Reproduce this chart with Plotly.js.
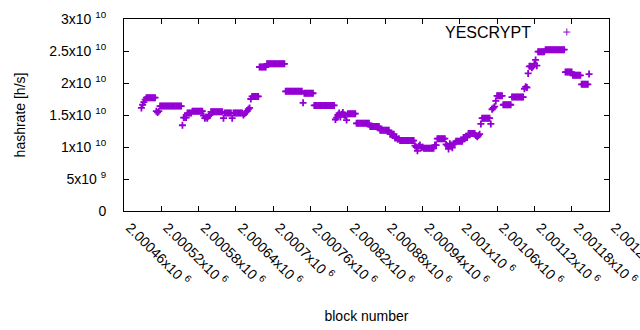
<!DOCTYPE html>
<html>
<head>
<meta charset="utf-8">
<script src="https://cdn.plot.ly/plotly-3.0.1.min.js"></script>
<style>html,body{margin:0;padding:0;background:#fff;}#chart{width:640px;height:330px;}</style>
</head>
<body>
<div id="chart"></div>
<script>
// first block of the series and spacing between sampled blocks
const blockStart = 2000488;
const blockStep = 2;
// hashrate values in units of 1e9 h/s
const hashrate = [
16.1,16.6,17.0,17.4,
17.7,17.7,17.7,17.7,17.7,17.7,17.7,17.7,
15.6,15.4,15.6,
16.4,16.4,16.4,16.4,16.4,16.4,16.4,16.4,16.4,16.4,16.4,16.4,16.4,16.4,16.4,16.4,16.4,16.4,
13.4,
14.6,14.6,14.6,
15.3,15.3,15.3,15.3,
15.6,15.6,15.6,15.6,15.6,15.6,15.6,15.6,15.6,
14.9,14.5,14.7,14.5,14.8,15.0,
15.5,15.5,15.5,15.5,15.5,15.5,15.5,15.5,15.5,15.5,
14.5,
15.3,15.3,15.3,15.3,15.3,15.3,14.5,15.3,15.3,15.3,15.3,15.3,15.3,15.3,15.3,
15.0,15.2,15.4,15.6,15.9,16.1,
17.5,17.9,17.9,17.9,17.9,17.9,17.9,
22.5,22.5,22.5,22.5,22.5,22.5,
23.0,23.0,23.0,23.0,23.0,23.0,23.0,23.0,23.0,23.0,23.0,23.0,23.0,23.0,23.0,
18.7,18.7,18.7,18.7,18.7,18.7,18.7,18.7,18.7,18.7,18.7,18.7,18.7,18.7,
16.9,
18.4,18.4,18.4,18.4,18.4,18.4,18.4,18.4,
16.5,16.5,16.5,16.5,16.5,16.5,16.5,16.5,16.5,16.5,16.5,16.5,16.5,16.5,16.5,16.5,16.5,
14.3,14.6,15.0,15.3,14.7,15.1,15.4,15.0,14.9,
14.2,
15.2,15.2,15.2,15.2,15.2,15.2,15.2,
13.7,13.7,13.7,13.7,13.7,13.7,13.7,13.7,13.7,13.7,13.7,
13.2,13.2,13.2,13.2,13.2,13.2,13.2,13.2,
12.6,12.6,12.6,12.6,12.6,12.6,12.6,12.6,
12.0,12.0,12.0,12.0,
11.4,11.5,11.2,11.3,
11.0,11.0,11.0,11.0,11.0,11.0,11.0,11.0,11.0,11.0,11.0,11.0,
10.2,10.0,9.4,10.1,10.3,9.9,10.0,
9.8,9.8,9.8,9.8,9.8,9.8,9.8,9.8,9.8,
10.3,10.3,
11.3,11.3,11.3,11.3,11.3,11.3,11.3,
10.4,10.2,9.7,10.5,10.3,9.9,10.4,10.6,
10.9,10.9,10.9,10.9,10.9,10.9,
11.5,11.5,11.5,11.5,
12.1,12.1,12.1,12.1,12.1,12.1,
11.8,11.6,11.8,12.0,
13.6,
14.5,14.5,14.5,14.5,14.5,14.5,14.5,
13.6,
15.9,16.1,16.3,17.2,
18.0,18.0,18.0,18.0,18.0,
16.6,16.6,16.6,16.6,16.6,16.6,16.6,
17.8,17.8,17.8,17.8,17.8,17.8,17.8,17.8,17.8,17.8,
19.1,19.4,19.3,
21.5,22.6,22.6,22.4,22.6,23.0,23.6,22.7,
24.9,24.9,24.9,24.9,24.9,24.9,
25.2,25.2,25.2,25.2,25.2,25.2,25.2,25.2,25.2,25.2,25.2,25.2,25.2,25.2,25.2,25.2,
21.7,21.7,21.7,21.7,21.7,21.7,
21.2,21.2,21.2,21.2,21.2,21.2,21.2,
19.8,19.8,19.8,19.8,19.8,19.8,
21.4
];
const xTickVals = [2000460,2000520,2000580,2000640,2000700,2000760,2000820,2000880,2000940,2001000,2001060,2001120,2001180,2001240];
const xTickText = ["2.00046","2.00052","2.00058","2.00064","2.0007","2.00076","2.00082","2.00088","2.00094","2.001","2.00106","2.00112","2.00118","2.00124"];
const yTickVals = [0,5,10,15,20,25,30];
const yTickText = ["0","5x10 <sup>9</sup>","1x10 <sup>10</sup>","1.5x10 <sup>10</sup>","2x10 <sup>10</sup>","2.5x10 <sup>10</sup>","3x10 <sup>10</sup>"];
const seriesName = "YESCRYPT";
const purple = "#9400d3";
const font = "Liberation Sans, Arial, sans-serif";

const trace = {
  type: "scatter", mode: "markers", name: seriesName,
  x0: blockStart, dx: blockStep, y: hashrate,
  marker: {symbol: "cross-thin", size: 5, color: purple, line: {color: purple, width: 1.8}},
  showlegend: false, hoverinfo: "skip"
};

const axisCommon = {
  showline: true, linecolor: "#000", linewidth: 1, mirror: "ticks",
  ticks: "inside", ticklen: 5, tickwidth: 1, tickcolor: "#000",
  showgrid: false, zeroline: false,
  tickfont: {family: font, size: 14, color: "#000"}
};

const layout = {
  width: 640, height: 330,
  margin: {l: 124, r: 31, t: 19, b: 119, pad: 0},
  paper_bgcolor: "#fff", plot_bgcolor: "#fff",
  font: {family: font, size: 14, color: "#000"},
  xaxis: Object.assign({}, axisCommon, {
    range: [2000460, 2001240.05], tickmode: "array",
    tickvals: xTickVals, ticktext: xTickText.map(t => t + "x10 <sup>6</sup>"),
    tickangle: 45, automargin: false, ticklabelstandoff: 2, ticklabelshift: 6,
    ticklabeloverflow: "allow",
    title: {text: "block number", font: {family: font, size: 14, color: "#000"}, standoff: 22}
  }),
  yaxis: Object.assign({}, axisCommon, {
    range: [0, 30], tickmode: "array",
    tickvals: yTickVals, ticktext: yTickText, ticklabelstandoff: 14, automargin: false,
    title: {text: "hashrate [h/s]", font: {family: font, size: 14, color: "#000"}, standoff: 20}
  }),
  annotations: [{
    xref: "paper", yref: "paper", x: 0.843, y: 0.932, xanchor: "right", yanchor: "middle",
    text: seriesName, showarrow: false, font: {family: font, size: 16, color: "#000"}
  }],
  shapes: [{
    type: "path", xref: "paper", yref: "paper", xsizemode: "pixel", ysizemode: "pixel",
    xanchor: 0.913, yanchor: 0.932, path: "M-3.5,0H3.5M0,-3.5V3.5",
    line: {color: purple, width: 1}
  }]
};

Plotly.newPlot("chart", [trace], layout, {staticPlot: true, displayModeBar: false});
</script>
</body>
</html>
